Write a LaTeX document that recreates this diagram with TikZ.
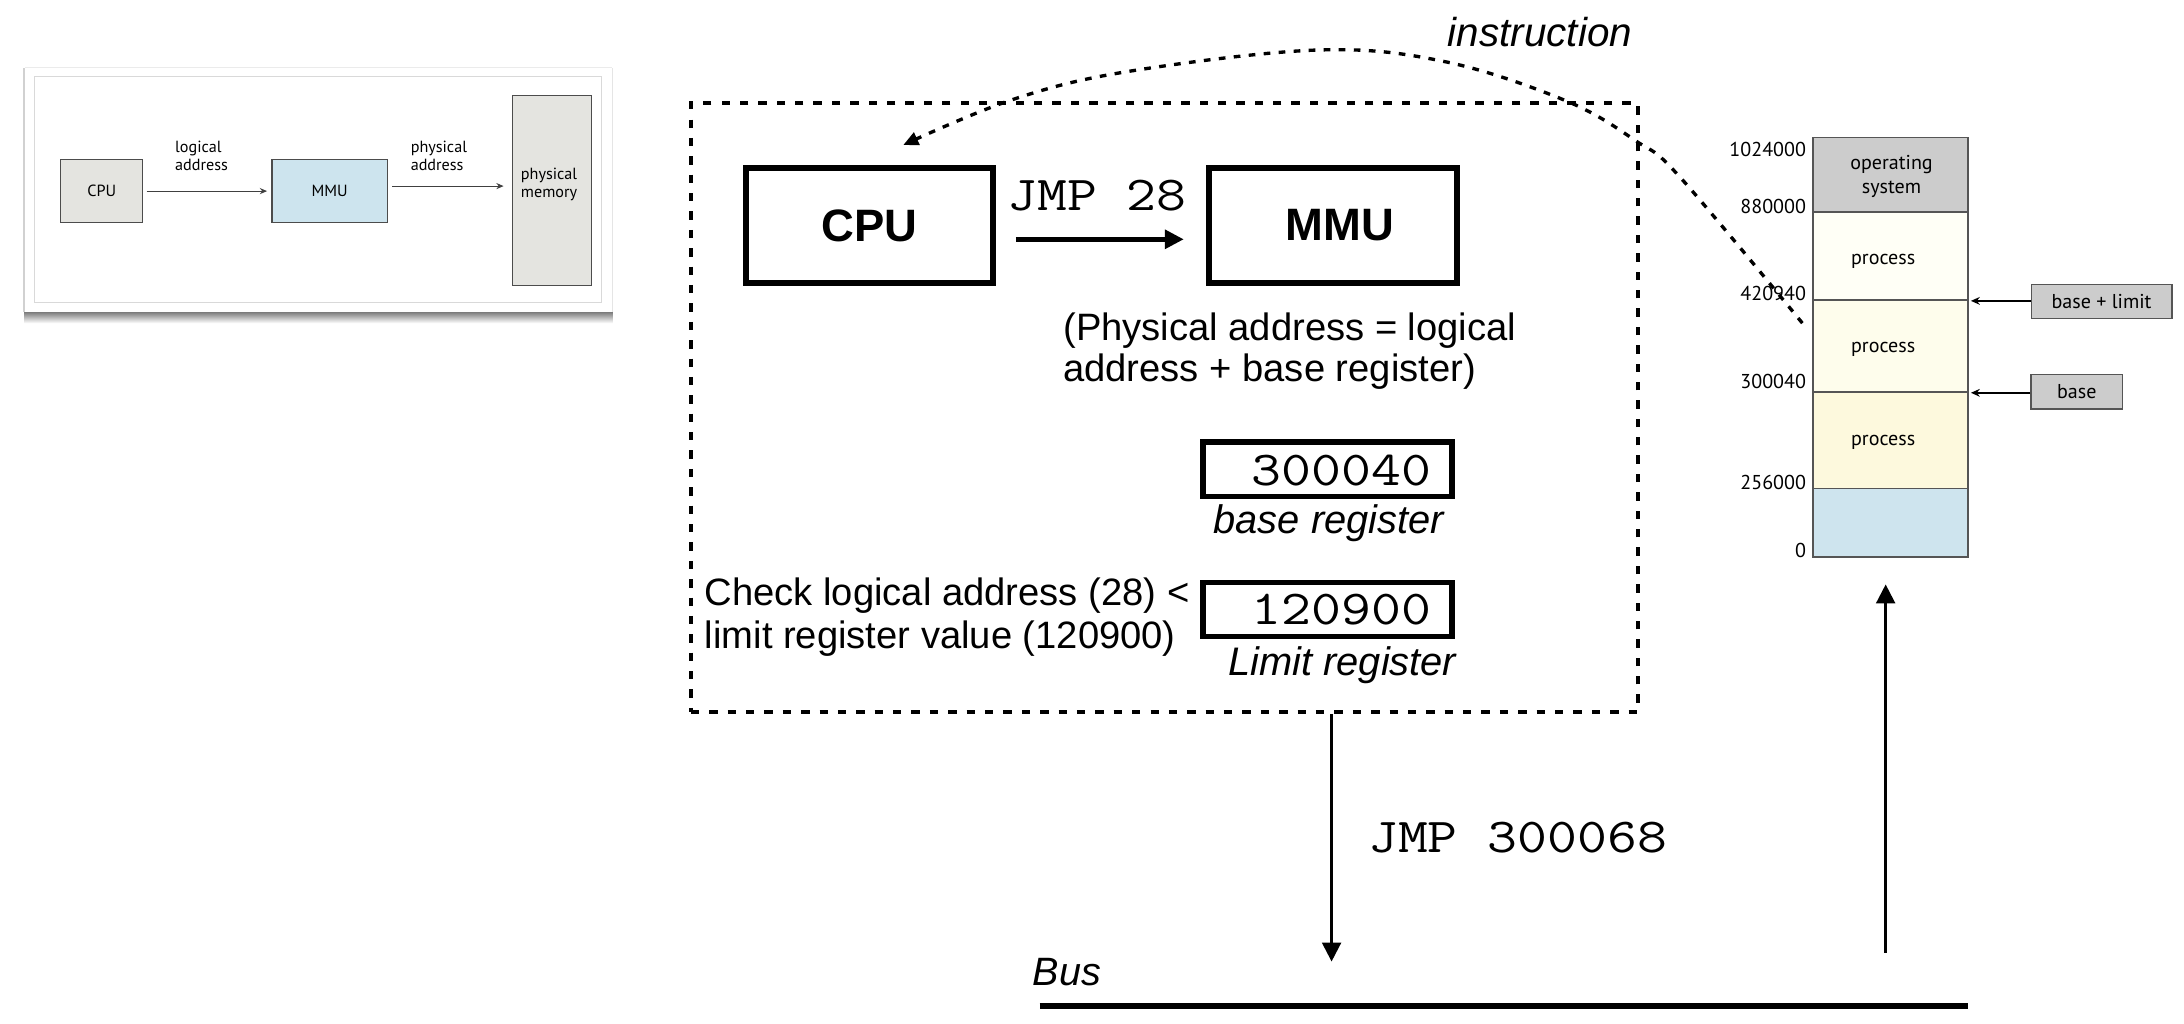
\documentclass[tikz,border=0pt]{standalone}
\usepackage{fontspec}
\usepackage{graphicx}
\setmainfont{Liberation Sans}
\newfontfamily\ptsans{PT Sans}
\usetikzlibrary{arrows.meta}
\definecolor{thumbgrey}{HTML}{E4E4E0}
\definecolor{thumbblue}{HTML}{CDE4EE}
\definecolor{osgrey}{HTML}{CCCCCC}
\definecolor{procA}{HTML}{FFFFF6}
\definecolor{procB}{HTML}{FEFDEC}
\definecolor{procC}{HTML}{FDF9DD}
\definecolor{freeblue}{HTML}{CEE4EE}
\definecolor{memline}{HTML}{555555}
\newcommand{\wmono}[1]{\scalebox{1.19}[1]{#1}}
\begin{document}
\begin{tikzpicture}[x=0.5pt,y=-0.5pt,
  bigbox/.style={draw, line width=2.1pt, minimum width=88.9pt, minimum height=41.2pt, inner sep=0pt,
    font=\fontsize{16.3}{18}\selectfont\bfseries},
  regbox/.style={draw, line width=2pt, minimum width=89.5pt, minimum height=19.5pt, inner sep=0pt},
  monotxt/.style={inner sep=0pt, font=\fontsize{17.5}{20}\selectfont\ttfamily},
  bodytxt/.style={inner sep=0pt, align=left, font=\fontsize{13.7}{14.8}\selectfont},
  itxt/.style={inner sep=0pt, font=\fontsize{14.3}{16}\selectfont\itshape},
  dashframe/.style={draw, line width=1.45pt, dash pattern=on 3pt off 3.6pt, minimum width=340pt, minimum height=218.4pt, inner sep=0pt},
  curvearr/.style={line width=1.2pt, dash pattern=on 2.4pt off 3pt, -{Triangle[length=5.4pt,width=4.8pt]}},
  bigarr/.style={line width=1.7pt, -{Triangle[length=6.8pt,width=6.6pt]}},
  vertarr/.style={line width=1.3pt, -{Triangle[length=6.8pt,width=6.6pt]}},
  memblk/.style={draw=memline, line width=0.6pt, minimum width=55.6pt, inner sep=0pt},
  memtxt/.style={inner sep=0pt, align=center, font=\ptsans\fontsize{7.2}{8.4}\selectfont},
  addr/.style={inner sep=0pt, anchor=east, font=\ptsans\fontsize{7.2}{8.4}\selectfont},
  tagbox/.style={draw=memline, fill=osgrey, line width=0.5pt, inner sep=0pt, font=\ptsans\fontsize{7.2}{8.4}\selectfont},
  smallarr/.style={line width=0.6pt, -{Stealth[length=3.2pt,width=2.8pt]}},
  tbox/.style={draw=black!70, line width=0.45pt, inner sep=0pt, font=\ptsans\fontsize{5.8}{6.6}\selectfont},
  ttxt/.style={inner sep=0pt, align=left, font=\ptsans\fontsize{5.8}{6.6}\selectfont},
  tarr/.style={line width=0.4pt, draw=black!75, -{Stealth[length=2.6pt,width=2.2pt]}}
]
\useasboundingbox (0,0) rectangle (1568,735);

% ---------- thumbnail card ----------
\shade[top color=black!55, bottom color=white] (17.5,223.5) rectangle (440,232);
\fill[black!18] (16.3,48.5) rectangle (18,224);
\fill[black!10] (439.3,48.5) rectangle (440.3,224);
\fill[white] (18,48.3) rectangle (439.3,223.8);
\draw[black!8, line width=0.4pt] (18,48.3) -- (439.3,48.3);
\draw[black!15, line width=0.4pt] (24.6,54.6) rectangle (432,217);

\node[tbox, fill=thumbgrey, minimum width=29.4pt, minimum height=22.5pt] (tcpu) at (73,137.2) {CPU};
\node[tbox, fill=thumbblue, minimum width=41.5pt, minimum height=22.5pt] (tmmu) at (236.7,137.2) {MMU};
\node[tbox, fill=thumbgrey, minimum width=28.4pt, minimum height=68.2pt] (tmem) at (396.4,136.6) {};
\draw[tarr, shorten <=1.2pt, shorten >=1.5pt] (tcpu.east) -- (tmmu.west);
\draw[tarr, shorten <=1.5pt, shorten >=3pt] ([yshift=1.8pt]tmmu.east) -- ([yshift=1.8pt]tmmu.east -| tmem.west);
\node[ttxt, anchor=west] (tlog) at (125.4,112) {logical\\address};
\node[ttxt, anchor=west] (tphy) at (294.5,112) {physical\\address};
\node[ttxt, anchor=west] (tpm) at (373.6,132.5) {physical\\memory};

% ---------- MMU frame ----------
\node[dashframe] (frame) at (836,292.6) {};

\node[bigbox] (cpu) at (624.2,161.8) {CPU};
\node[bigbox] (mmu) at (956.9,161.8) {\hspace*{5pt}MMU};
\node[monotxt, anchor=base] (jmp) at (787.6,150.8) {\wmono{JMP 28}};
\draw[bigarr, shorten <=7.1pt, shorten >=8pt] ([yshift=-5pt]cpu.east) -- ([yshift=-5pt]cpu.east -| mmu.west);

\node[bodytxt, anchor=west] (phys) at (763,252.3) {(Physical address = logical\\address + base register)};

\node[regbox] (basereg) at (953,336.9) {};
\node[monotxt, anchor=base] (baseval) at (963,348.2) {\wmono{300040}};
\node[itxt, anchor=base] (basecap) at (954,382.9) {base register};

\node[regbox] (limreg) at (953,437.6) {};
\node[monotxt, anchor=base] (limval) at (963,448.7) {\wmono{120900}};
\node[itxt, anchor=base] (limcap) at (963.7,485.3) {Limit register};

\node[bodytxt, anchor=west, font=\fontsize{13.7}{15.2}\selectfont] (check) at (505.6,443) {Check logical address (28) <\\limit register value (120900)};

% ---------- instruction curve ----------
\node[itxt, anchor=base, font=\fontsize{14.5}{16}\selectfont\itshape] (instr) at (1105.6,33.5) {instruction};
\coordinate (curveS) at (1294,232);
\coordinate (curveE) at (648.5,104.1);
\draw[curvearr] plot[smooth, tension=0.6] coordinates {(curveS) (1206,127) (1175,101.5) (1124.6,72.5) (1037.6,44.3) (946,35.9) (808.7,51.5) (726,71.8) (curveE)};

% ---------- bus ----------
\coordinate (downend) at (956,690.4);
\draw[vertarr] (frame.south -| downend) -- (downend);
\node[monotxt, anchor=base] (jmp2) at (1089.5,612.2) {\wmono{JMP 300068}};
\node[itxt, anchor=base, font=\fontsize{14.2}{16}\selectfont\itshape] (bus) at (766,707.2) {Bus};
\coordinate (busL) at (746.3,722.2);
\coordinate (busR) at (1413,722.2);
\draw[line width=2.15pt] (busL) -- (busR);
\coordinate (uptail) at (1353.8,684);
\coordinate (uptip) at (1353.8,419.5);
\draw[vertarr] (uptail) -- (uptip);

% ---------- memory ----------
\node[memblk, fill=osgrey, minimum height=26.6pt] (os) at (1357.4,125.4) {};
\node[memblk, fill=procA, minimum height=31.7pt] (p1) at (1357.4,183.7) {};
\node[memblk, fill=procB, minimum height=33pt] (p2) at (1357.4,248.4) {};
\node[memblk, fill=procC, minimum height=34.6pt] (p3) at (1357.4,316) {};
\node[memblk, fill=freeblue, minimum height=24.55pt] (free) at (1357.4,375.15) {};

\node[memtxt] (ostxt) at (1358,126.8) {operating\\system};
\node[memtxt] (p1txt) at (1352,187.4) {process};
\node[memtxt] (p2txt) at (1352,250.6) {process};
\node[memtxt] (p3txt) at (1352,317.6) {process};

\node[addr] (a1) at (1297,107.2) {1024000};
\node[addr] (a2) at (1297,148.4) {880000};
\node[addr] (a3) at (1297,211) {420940};
\node[addr] (a4) at (1297,274) {300040};
\node[addr] (a5) at (1297,346.5) {256000};
\node[addr] (a6) at (1297,395.4) {0};

\node[tagbox, minimum width=50.5pt, minimum height=12.4pt] (bl) at (1508.8,216.45) {base + limit};
\node[tagbox, minimum width=32.8pt, minimum height=12.3pt] (bs) at (1491,281.2) {base};
\draw[smallarr] (bl.west |- p1.south) -- ([xshift=0.7pt]p1.south east);
\draw[smallarr] (bs.west |- p2.south) -- ([xshift=0.7pt]p2.south east);
\end{tikzpicture}
\end{document}
